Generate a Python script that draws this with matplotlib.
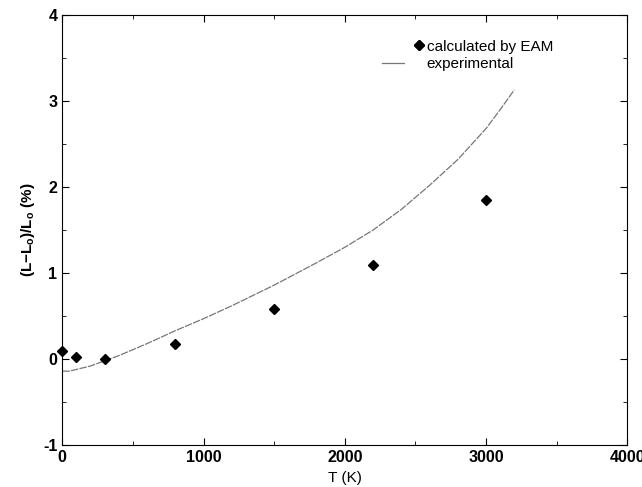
import numpy as np
import matplotlib.pyplot as plt
from matplotlib.ticker import MultipleLocator
from matplotlib.legend_handler import HandlerLine2D

plt.rcParams['font.family'] = ['Liberation Sans', 'DejaVu Sans']
plt.rcParams['axes.unicode_minus'] = False
plt.rcParams['mathtext.default'] = 'regular'

# calculated by EAM
T_eam = [0, 100, 300, 800, 1500, 2200, 3000]
dL_eam = [0.10, 0.03, 0.00, 0.18, 0.58, 1.10, 1.85]

# experimental curve
T_exp = [0, 50, 100, 200, 300, 400, 500, 600, 800, 1000, 1200, 1500, 1800, 2000,
         2200, 2400, 2600, 2800, 3000, 3100, 3200]
dL_exp = [-0.14, -0.14, -0.12, -0.08, -0.02, 0.04, 0.11, 0.18, 0.33, 0.47, 0.62, 0.86,
          1.12, 1.30, 1.50, 1.74, 2.02, 2.32, 2.68, 2.90, 3.13]


class PartHandle(HandlerLine2D):
    # legend handle drawn over only part of the handle box
    def __init__(self, f0, f1, **kw):
        super().__init__(**kw)
        self.f0, self.f1 = f0, f1

    def get_numpoints(self, legend):
        return 2

    def get_xdata(self, legend, xdescent, ydescent, width, height, fontsize):
        xd = [-xdescent + self.f0 * width, -xdescent + self.f1 * width]
        return xd, xd


fig = plt.figure(figsize=(6.42, 4.87), dpi=100)
ax = fig.add_axes([0.097, 0.086, 0.880, 0.883])

exp_line, = ax.plot(T_exp, dL_exp, linestyle=(0, (6, 1)), color='#777777', linewidth=0.9,
                    label='experimental')
eam_pts, = ax.plot(T_eam, dL_eam, linestyle='none', marker='D', markersize=5, color='black',
                   label='calculated by EAM', clip_on=False)

ax.set_xlim(0, 4000)
ax.set_ylim(-1, 4)
ax.xaxis.set_major_locator(MultipleLocator(1000))
ax.xaxis.set_minor_locator(MultipleLocator(500))
ax.yaxis.set_major_locator(MultipleLocator(1))
ax.yaxis.set_minor_locator(MultipleLocator(0.5))
ax.tick_params(which='both', direction='in', top=True, right=True, labelsize=11.5)
ax.tick_params(which='major', length=5)
ax.tick_params(which='minor', length=3)
for lab in ax.get_xticklabels() + ax.get_yticklabels():
    lab.set_fontweight('bold')

ax.set_xlabel('T (K)', fontsize=11)
ax.set_ylabel('(L$-$L$_o$)/L$_o$ (%)', fontsize=11, fontweight='bold')

leg = ax.legend([eam_pts, exp_line], ['calculated by EAM', 'experimental'],
                handler_map={eam_pts: PartHandle(0.89, 0.89),
                             exp_line: PartHandle(0.10, 0.58)},
                loc='upper left', bbox_to_anchor=(0.534, 0.975), frameon=False,
                fontsize=11, handlelength=3.0, handletextpad=0.2, labelspacing=0.25)
leg.get_lines()[1].set_linestyle('-')

fig.savefig('out.png', dpi=100)
